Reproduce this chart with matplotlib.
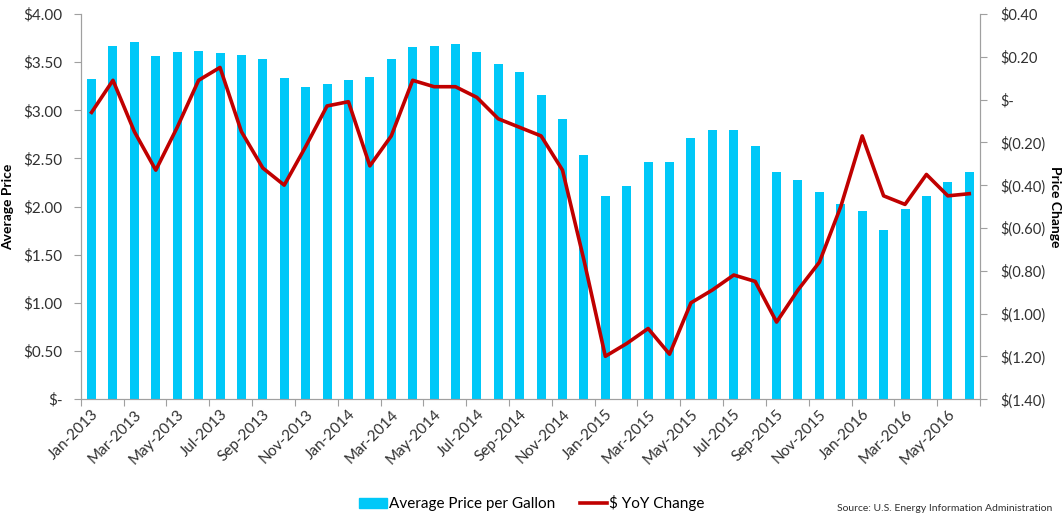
import matplotlib
matplotlib.use("Agg")
import matplotlib.pyplot as plt
from matplotlib.ticker import FuncFormatter, FixedLocator, MultipleLocator
from matplotlib.patches import Patch
from matplotlib.lines import Line2D
import numpy as np
import pandas as pd

plt.rcParams['font.family'] = ['Lato', 'DejaVu Sans']

# monthly categories Jan-2013 .. Jun-2016
months = pd.date_range('2013-01-01', periods=42, freq='MS').strftime('%b-%Y').tolist()

avg_price = [3.32, 3.67, 3.71, 3.56, 3.61, 3.62, 3.59, 3.57, 3.53, 3.34, 3.24, 3.27,
             3.31, 3.35, 3.53, 3.66, 3.67, 3.69, 3.60, 3.48, 3.40, 3.16, 2.91, 2.54,
             2.11, 2.21, 2.46, 2.46, 2.71, 2.80, 2.79, 2.63, 2.36, 2.28, 2.15, 2.03,
             1.95, 1.76, 1.97, 2.11, 2.26, 2.36]

yoy_change = [-0.06, 0.09, -0.15, -0.33, -0.13, 0.09, 0.15, -0.15, -0.32, -0.40, -0.22, -0.03,
              -0.01, -0.31, -0.17, 0.09, 0.06, 0.06, 0.01, -0.09, -0.13, -0.17, -0.33, -0.75,
              -1.20, -1.14, -1.07, -1.19, -0.95, -0.89, -0.82, -0.85, -1.04, -0.89, -0.76, -0.50,
              -0.17, -0.45, -0.49, -0.35, -0.45, -0.44]


def money(v, pos=None):
    if abs(v) < 1e-9:
        return '$-'
    if v < 0:
        return '$({:.2f})'.format(-v)
    return '${:.2f}'.format(v)


fig = plt.figure(figsize=(10.64, 5.17), dpi=100)
ax = fig.add_axes([0.076, 0.228, 0.845, 0.745])
x = np.arange(len(months))

ax.bar(x, avg_price, width=0.42, color='#00C8F8', zorder=2)
ax.set_xlim(-0.5, len(months) - 0.5)
ax.set_ylim(0, 4)
ax.yaxis.set_major_locator(MultipleLocator(0.5))
ax.yaxis.set_major_formatter(FuncFormatter(money))

ax2 = ax.twinx()
ax2.plot(x, yoy_change, color='#C00000', linewidth=2.6, zorder=3)
ax2.set_ylim(-1.4, 0.4)
ax2.yaxis.set_major_locator(MultipleLocator(0.2))
ax2.yaxis.set_major_formatter(FuncFormatter(money))

# x ticks between categories, labels every second month
ax.xaxis.set_major_locator(FixedLocator(np.arange(-0.5, len(months), 2)))
ax.xaxis.set_major_formatter(FuncFormatter(lambda v, p: ''))
ax.set_xticks(x[::2], minor=True)
ax.set_xticklabels(months[::2], minor=True, rotation=45, ha='right',
                   rotation_mode='anchor', fontsize=11, color='#303030')
ax.tick_params(axis='x', which='minor', length=0, pad=6)
ax.tick_params(axis='x', which='major', length=5, color='#A0A0A0')

for a in (ax, ax2):
    for s in a.spines.values():
        s.set_color('#A0A0A0')
    a.spines['top'].set_visible(False)
ax.tick_params(axis='y', length=5, color='#A0A0A0', labelsize=11, labelcolor='#303030', pad=8)
ax2.tick_params(axis='y', length=5, color='#A0A0A0', labelsize=10.5, labelcolor='#303030', pad=10)

ax.set_ylabel('Average Price', fontsize=10, fontweight='bold')
ax.yaxis.set_label_coords(-0.0745, 0.5)
ax2.set_ylabel('Price Change', fontsize=10, fontweight='bold', rotation=-90, va='center')
ax2.yaxis.set_label_coords(1.083, 0.5)

handles = [Patch(color='#00C8F8', label='Average Price per Gallon'),
           Line2D([0], [0], color='#C00000', linewidth=2.6, label='$ YoY Change')]
fig.legend(handles=handles, loc='center', bbox_to_anchor=(0.5, 0.027), ncol=2,
           frameon=False, fontsize=11, handlelength=1.8, handleheight=0.6,
           columnspacing=1.6, handletextpad=0.15)

fig.text(0.787, 0.012, 'Source: U.S. Energy Information Administration', fontsize=7.5,
         color='#303030')

plt.savefig('out.png', dpi=100)
